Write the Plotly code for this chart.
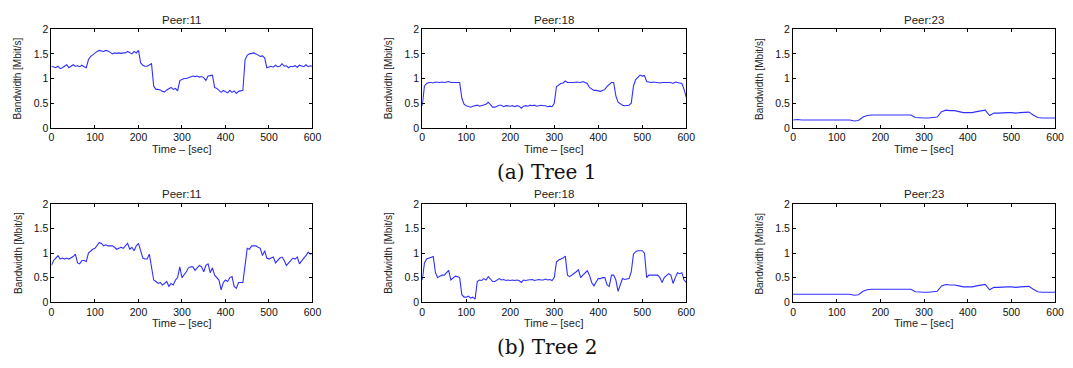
import plotly.graph_objects as go

W, H = 1073, 368

TIME5 = list(range(0, 601, 5))
TIME10 = list(range(0, 601, 10))

tree1_peer11 = [
    1.25, 1.24, 1.22, 1.25, 1.20, 1.22, 1.25, 1.28, 1.22, 1.25,
    1.28, 1.25, 1.26, 1.24, 1.27, 1.24, 1.22, 1.38, 1.45, 1.48,
    1.52, 1.55, 1.57, 1.56, 1.55, 1.57, 1.56, 1.53, 1.50, 1.52,
    1.51, 1.52, 1.51, 1.52, 1.52, 1.55, 1.52, 1.50, 1.55, 1.52,
    1.57, 1.32, 1.27, 1.25, 1.25, 1.27, 1.30, 0.85, 0.78, 0.78,
    0.77, 0.74, 0.73, 0.77, 0.80, 0.82, 0.78, 0.80, 0.75, 0.96,
    0.98, 1.00, 1.00, 1.02, 1.04, 1.05, 1.04, 1.05, 1.03, 1.04,
    1.02, 0.96, 1.05, 1.06, 1.07, 0.82, 0.80, 0.76, 0.72, 0.76,
    0.74, 0.71, 0.76, 0.72, 0.75, 0.70, 0.74, 0.75, 0.76, 1.38,
    1.47, 1.50, 1.51, 1.52, 1.50, 1.48, 1.45, 1.46, 1.42, 1.22,
    1.24, 1.25, 1.23, 1.27, 1.24, 1.25, 1.30, 1.25, 1.26, 1.22,
    1.25, 1.24, 1.26, 1.23, 1.27, 1.25, 1.24, 1.28, 1.24, 1.26,
    1.25,
]

tree1_peer18 = [
    0.45, 0.85, 0.90, 0.92, 0.92, 0.91, 0.93, 0.92, 0.92, 0.93,
    0.92, 0.93, 0.94, 0.92, 0.92, 0.93, 0.92, 0.92, 0.60, 0.48,
    0.45, 0.44, 0.42, 0.44, 0.45, 0.46, 0.44, 0.45, 0.46, 0.48,
    0.52, 0.46, 0.42, 0.42, 0.44, 0.46, 0.46, 0.43, 0.45, 0.44,
    0.44, 0.45, 0.43, 0.45, 0.44, 0.40, 0.44, 0.45, 0.44, 0.46,
    0.45, 0.46, 0.44, 0.45, 0.46, 0.45, 0.45, 0.43, 0.44, 0.43,
    0.50, 0.84, 0.88, 0.90, 0.91, 0.95, 0.92, 0.92, 0.91, 0.92,
    0.93, 0.92, 0.92, 0.94, 0.92, 0.90, 0.82, 0.78, 0.76, 0.76,
    0.75, 0.74, 0.76, 0.78, 0.84, 0.88, 0.92, 0.92, 0.65, 0.52,
    0.48, 0.46, 0.45, 0.45, 0.46, 0.50, 0.85, 0.98, 1.02, 1.07,
    1.05, 1.06, 0.94, 0.93, 0.92, 0.93, 0.92, 0.92, 0.91, 0.92,
    0.92, 0.91, 0.92, 0.92, 0.90, 0.93, 0.92, 0.91, 0.90, 0.78,
    0.62,
]

tree1_peer23 = [
    0.16, 0.17, 0.16, 0.16, 0.16, 0.16, 0.16, 0.16, 0.15, 0.16,
    0.16, 0.16, 0.16, 0.16, 0.14, 0.15, 0.22, 0.25, 0.26, 0.26,
    0.26, 0.25, 0.26, 0.26, 0.25, 0.26, 0.26, 0.26, 0.21, 0.20,
    0.20, 0.20, 0.21, 0.22, 0.33, 0.36, 0.35, 0.35, 0.33, 0.31,
    0.31, 0.31, 0.33, 0.35, 0.36, 0.25, 0.30, 0.30, 0.31, 0.31,
    0.31, 0.30, 0.31, 0.31, 0.32, 0.26, 0.21, 0.20, 0.20, 0.20,
    0.20,
]

tree2_peer11 = [
    0.75, 0.85, 0.90, 0.95, 0.88, 0.90, 0.88, 0.90, 0.88, 0.90,
    0.93, 0.98, 0.80, 0.78, 0.85, 0.85, 0.83, 1.00, 1.05, 1.08,
    1.10, 1.15, 1.22, 1.20, 1.15, 1.17, 1.15, 1.15, 1.15, 1.12,
    1.08, 1.10, 1.12, 1.10, 1.15, 1.20, 1.08, 1.12, 1.05, 1.15,
    1.20, 1.05, 0.90, 0.88, 0.88, 0.98, 0.70, 0.45, 0.42, 0.38,
    0.40, 0.35, 0.38, 0.42, 0.32, 0.38, 0.35, 0.45, 0.50, 0.72,
    0.50, 0.55, 0.62, 0.70, 0.72, 0.72, 0.65, 0.70, 0.75, 0.72,
    0.62, 0.75, 0.78, 0.60, 0.70, 0.55, 0.50, 0.45, 0.25, 0.40,
    0.45, 0.42, 0.50, 0.52, 0.32, 0.28, 0.40, 0.40, 0.40, 0.75,
    1.10, 1.08, 1.15, 1.15, 1.15, 1.12, 1.10, 0.95, 1.05, 0.90,
    0.88, 0.90, 0.92, 0.80, 0.85, 0.90, 0.92, 0.85, 0.75, 0.80,
    0.85, 0.90, 0.88, 0.92, 0.78, 0.85, 0.90, 0.95, 1.02, 0.98,
    1.00,
]

tree2_peer18 = [
    0.45, 0.80, 0.88, 0.90, 0.92, 0.93, 0.60, 0.50, 0.53, 0.55,
    0.55, 0.60, 0.65, 0.45, 0.50, 0.53, 0.52, 0.50, 0.15, 0.10,
    0.10, 0.12, 0.08, 0.10, 0.06, 0.42, 0.45, 0.44, 0.48, 0.45,
    0.52, 0.48, 0.42, 0.42, 0.45, 0.48, 0.45, 0.46, 0.44, 0.45,
    0.44, 0.45, 0.44, 0.45, 0.44, 0.40, 0.45, 0.44, 0.45, 0.45,
    0.46, 0.44, 0.45, 0.46, 0.45, 0.45, 0.47, 0.45, 0.46, 0.44,
    0.50, 0.82, 0.86, 0.88, 0.90, 0.94, 0.55, 0.52, 0.55, 0.58,
    0.62, 0.66, 0.50, 0.55, 0.60, 0.64, 0.55, 0.40, 0.33, 0.42,
    0.48, 0.48, 0.50, 0.50, 0.35, 0.32, 0.55, 0.55, 0.45, 0.22,
    0.35, 0.48, 0.46, 0.47, 0.48, 0.62, 0.98, 1.03, 1.05, 1.05,
    1.05, 1.00, 0.50, 0.55, 0.55, 0.56, 0.55, 0.55, 0.50, 0.40,
    0.50, 0.55, 0.58, 0.55, 0.38, 0.50, 0.60, 0.58, 0.60, 0.45,
    0.40,
]

tree2_peer23 = [
    0.16, 0.16, 0.16, 0.16, 0.16, 0.16, 0.16, 0.15, 0.16, 0.16,
    0.16, 0.16, 0.16, 0.16, 0.14, 0.15, 0.22, 0.25, 0.26, 0.26,
    0.26, 0.25, 0.26, 0.26, 0.25, 0.26, 0.26, 0.26, 0.21, 0.20,
    0.20, 0.20, 0.21, 0.22, 0.33, 0.36, 0.35, 0.35, 0.33, 0.31,
    0.31, 0.31, 0.33, 0.35, 0.36, 0.25, 0.30, 0.30, 0.31, 0.31,
    0.31, 0.30, 0.31, 0.31, 0.32, 0.26, 0.21, 0.20, 0.20, 0.20,
    0.20,
]

panel_titles = ["Peer:11", "Peer:18", "Peer:23"]
captions = ["(a) Tree 1", "(b) Tree 2"]
x_title = "Time \u2013 [sec]"
y_title = "Bandwidth [Mbit/s]"

series = [
    [(TIME5, tree1_peer11), (TIME5, tree1_peer18), (TIME10, tree1_peer23)],
    [(TIME5, tree2_peer11), (TIME5, tree2_peer18), (TIME10, tree2_peer23)],
]

# pixel boxes for plot areas
col_px = [(49, 313), (424, 691), (799, 1064)]
row_px = [(24, 126), (205, 306)]
ytitle_px = [15, 390, 765]
title_y = [14, 194]
xtitle_y = [148, 328]
caption_y = [172, 353]

def px_x(p):
    return p / W

def px_y(p):
    return 1 - p / H

LINE = "#3030ff"
FONT = "Liberation Sans, Arial, sans-serif"

fig = go.Figure()
annotations = []
layout = {}
k = 0
for r in range(2):
    for c in range(3):
        k += 1
        xa = "x" if k == 1 else f"x{k}"
        ya = "y" if k == 1 else f"y{k}"
        t, v = series[r][c]
        fig.add_trace(go.Scatter(x=t, y=v, mode="lines", xaxis=xa, yaxis=ya,
                                 line=dict(color=LINE, width=1.1),
                                 showlegend=False, hoverinfo="skip"))
        common = dict(showline=True, mirror="ticks", linecolor="black",
                      linewidth=1, ticks="inside", ticklen=3, tickcolor="black",
                      showgrid=False, zeroline=False,
                      tickfont=dict(family=FONT, size=10.5, color="#111"))
        layout[("xaxis" if k == 1 else f"xaxis{k}")] = dict(
            domain=[px_x(col_px[c][0]), px_x(col_px[c][1])],
            anchor=ya, range=[0, 600], dtick=100, tick0=0, **common)
        layout[("yaxis" if k == 1 else f"yaxis{k}")] = dict(
            domain=[px_y(row_px[r][1]), px_y(row_px[r][0])],
            anchor=xa, range=[0, 2], dtick=0.5, tick0=0, **common)
        cx = (col_px[c][0] + col_px[c][1]) / 2
        annotations.append(dict(text=panel_titles[c], x=px_x(cx), y=px_y(title_y[r]),
                                xref="paper", yref="paper", showarrow=False,
                                xanchor="center", yanchor="middle",
                                font=dict(family=FONT, size=11.5, color="#222")))
        annotations.append(dict(text=x_title, x=px_x(cx), y=px_y(xtitle_y[r]),
                                xref="paper", yref="paper", showarrow=False,
                                xanchor="center", yanchor="middle",
                                font=dict(family=FONT, size=11, color="#222")))
        cy = (row_px[r][0] + row_px[r][1]) / 2
        annotations.append(dict(text=y_title, x=px_x(ytitle_px[c]), y=px_y(cy),
                                xref="paper", yref="paper", showarrow=False,
                                textangle=-90, xanchor="center", yanchor="middle",
                                font=dict(family=FONT, size=10, color="#222")))
    annotations.append(dict(text=captions[r], x=px_x(550), y=px_y(caption_y[r]),
                            xref="paper", yref="paper", showarrow=False,
                            xanchor="center", yanchor="middle",
                            font=dict(family="DejaVu Serif, serif", size=20, color="#111")))

fig.update_layout(width=W, height=H, margin=dict(l=0, r=0, t=0, b=0),
                  paper_bgcolor="white", plot_bgcolor="white",
                  annotations=annotations, **layout)

fig.write_html("out.html")
